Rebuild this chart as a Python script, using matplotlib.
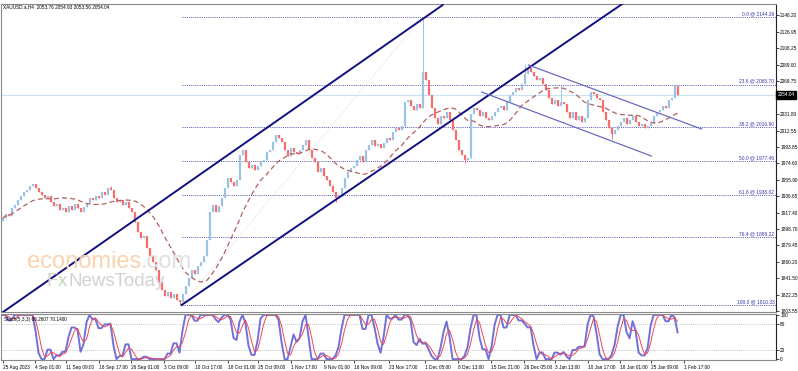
"""XAUUSD H4 chart with channels, Fibonacci levels and a stochastic panel."""

import matplotlib

matplotlib.use("Agg")
import matplotlib.pyplot as plt
import matplotlib.transforms as mtransforms
import pandas as pd

plt.rcParams["font.family"] = ["Liberation Sans", "DejaVu Sans"]

W, H = 798, 371

first_open = 1908.0
closes = [
    1911, 1916, 1914, 1923,
    1926, 1932, 1937, 1941, 1944, 1948, 1951, 1946,
    1941, 1938, 1934, 1937, 1930, 1925, 1927, 1921,
    1923, 1918, 1925, 1921, 1927, 1923, 1918, 1924,
    1929, 1934, 1932, 1937, 1934, 1941, 1938, 1946,
    1944, 1934, 1930, 1932, 1926, 1930, 1923, 1918,
    1907, 1895, 1888, 1890, 1876, 1867, 1860, 1851,
    1837, 1828, 1821, 1825, 1818, 1823, 1816, 1814,
    1823, 1832, 1842, 1851, 1846, 1856, 1860, 1867,
    1886, 1918, 1926, 1918, 1925, 1934, 1946, 1958,
    1953, 1948, 1955, 1984, 1990, 1976, 1969, 1973,
    1967, 1972, 1976, 1979, 1988, 1990, 1999, 2008,
    2004, 1999, 1990, 1983, 1992, 1988, 1985, 1990,
    1996, 2002, 1990, 1981, 1976, 1965, 1969, 1960,
    1955, 1948, 1941, 1934, 1937, 1946, 1958, 1965,
    1969, 1972, 1979, 1983, 1976, 1990, 1996, 2002,
    1995, 1997, 1992, 1998, 2004, 2002, 2011, 2016,
    2013, 2018, 2046, 2048, 2041, 2037, 2044, 2039,
    2081, 2071, 2054, 2039, 2027, 2020, 2030, 2027,
    2034, 2025, 2013, 2002, 1990, 1984, 1979, 1981,
    2032, 2039, 2037, 2030, 2034, 2027, 2025, 2030,
    2034, 2039, 2041, 2037, 2046, 2054, 2057, 2062,
    2060, 2067, 2078, 2085, 2081, 2076, 2071, 2074,
    2067, 2060, 2050, 2043, 2048, 2041, 2046, 2044,
    2034, 2027, 2034, 2025, 2030, 2023, 2027, 2048,
    2057, 2055, 2050, 2048, 2034, 2025, 2016, 2009,
    2013, 2018, 2023, 2027, 2020, 2025, 2030, 2023,
    2018, 2020, 2016, 2018, 2022, 2030, 2034, 2037,
    2041, 2039, 2048, 2050, 2064, 2054.04,
]

# long wicks visible on the chart
wick_bars = [36, 59, 111, 140, 154, 174, 186, 203, 224]
wick_prices = [1948.0, 1810.3, 1930.0, 2144.4, 1975.0, 2090.0, 2066.0, 2003.0, 2067.0]

fib_pct = [0.0, 23.6, 38.2, 50.0, 61.8, 76.4, 100.0]
fib_prices = [2144.39, 2065.70, 2016.90, 1977.46, 1938.02, 1889.22, 1810.33]
fib_anchor_bars = [59.7, 140.0]

price_ticks = [2146.20, 2126.95, 2108.25, 2089.00, 2069.75, 2031.80, 2012.55,
               1993.85, 1974.60, 1955.90, 1936.65, 1917.40, 1898.70, 1879.45,
               1860.20, 1841.50, 1822.25, 1803.55]
last_price = 2054.04

date_labels = ["25 Aug 2023", "4 Sep 01:00", "11 Sep 09:00", "18 Sep 17:00",
               "26 Sep 01:00", "3 Oct 09:00", "10 Oct 17:00", "18 Oct 01:00",
               "25 Oct 09:00", "1 Nov 17:00", "9 Nov 01:00", "16 Nov 09:00",
               "23 Nov 17:00", "1 Dec 05:00", "8 Dec 13:00", "15 Dec 21:00",
               "26 Dec 05:00", "3 Jan 13:00", "10 Jan 17:00", "18 Jan 01:00",
               "25 Jan 09:00", "1 Feb 17:00"]
date_bars = [0.3, 10.7, 21.0, 32.0, 42.7, 53.7, 64.0, 75.0, 85.3, 96.0, 107.0,
             117.3, 128.7, 140.7, 151.7, 162.7, 173.7, 184.3, 195.3, 205.7,
             216.3, 227.3]

# drawn trend lines as (bar, price) anchors
up_top = ([-0.3, 146.7], [1801.0, 2158.3])
up_bottom = ([59.7, 208.0], [1810.3, 2163.0])
down_top = ([175.3, 233.0], [2088.7, 2014.5])
down_bottom = ([159.7, 216.3], [2057.4, 1983.1])

header = "XAUUSD.a,H4  2053.76 2054.93 2053.56 2054.04"
stoch_title = "Stoch(5,3,3) 66.2607 70.1400"

# ---- derived series
c = pd.Series(closes, dtype=float)
o = c.shift(1).fillna(first_open)
hi = pd.concat([o, c], axis=1).max(axis=1)
lo = pd.concat([o, c], axis=1).min(axis=1)
for b, p in zip(wick_bars, wick_prices):
    hi[b] = max(hi[b], p)
    lo[b] = min(lo[b], p)
ma = c.rolling(18, min_periods=1).mean()
ll = lo.rolling(3, min_periods=1).min()
hh = hi.rolling(3, min_periods=1).max()
raw_k = 100 * (c - ll) / (hh - ll).where(hh > ll, 1)
k_line = raw_k.rolling(2, min_periods=1).mean()
d_line = k_line.rolling(3, min_periods=1).mean()
x = list(range(len(closes)))

# ---- figure
fig = plt.figure(figsize=(W / 100, H / 100), dpi=100)
fig.patch.set_facecolor("white")
ax = fig.add_axes([1 / W, 1 - 312 / H, 775 / W, 308 / H])
axs = fig.add_axes([1 / W, 1 - 360 / H, 775 / W, 46 / H], sharex=ax)

xmax = 257.8
ax.set_xlim(-0.5, xmax)
ax.set_ylim(1802.2, 2159.5)

ax.axhline(last_price, color="#c8e4f2", lw=0.8, zorder=1)

ax.hlines(fib_prices, fib_anchor_bars[0], xmax, colors="#5555b5",
          linestyles=(0, (1, 1.2)), lw=0.7, zorder=2)
ax.plot(fib_anchor_bars, [fib_prices[-1], fib_prices[0]], color="#d4d4d4",
        ls=(0, (1, 1.5)), lw=0.6, zorder=2)
trans_r = mtransforms.blended_transform_factory(ax.transAxes, ax.transData)
for pct, p in zip(fib_pct, fib_prices):
    ax.text(0.998, p + 1.2, f"{pct:.1f} @ {p:.2f}", transform=trans_r,
            ha="right", va="bottom", fontsize=3.5, color="#3636b0")

up_c, down_c = "#9cc2e6", "#f76e6e"
cols = [up_c if cc >= oo else down_c for cc, oo in zip(c, o)]
ax.vlines(x, lo, hi, colors=cols, lw=0.7, zorder=3)
ax.vlines(x, [min(a, b) for a, b in zip(o, c)], [max(a, b) for a, b in zip(o, c)],
          colors=cols, lw=1.6, zorder=3)
ax.plot(x, ma, color="#b0625c", lw=0.9, ls=(0, (4, 2.5)), zorder=4)

ax.plot(*up_top, color="#101080", lw=1.4, zorder=5)
ax.plot(*up_bottom, color="#101080", lw=1.4, zorder=5)
ax.plot(*down_top, color="#6b6bc0", lw=0.9, zorder=5)
ax.plot(*down_bottom, color="#6b6bc0", lw=0.9, zorder=5)

# watermark
fig.text(27 / W, 1 - 262 / H, "economies", fontsize=17, color="#f9d2b0",
         va="center", ha="left", zorder=0)
fig.text(141 / W, 1 - 262 / H, ".com", fontsize=17, color="#e0e0e0",
         va="center", ha="left", zorder=0)
fig.text(47 / W, 1 - 281 / H, "F", fontsize=13.5, color="#d2d2d2",
         va="center", ha="left")
fig.text(57.5 / W, 1 - 281 / H, "x", fontsize=13.5, color="#c0dcb8",
         va="center", ha="left")
fig.text(69 / W, 1 - 281 / H, "NewsToday", fontsize=13.5, color="#d2d2d2",
         va="center", ha="left")

ax.yaxis.tick_right()
ax.set_yticks(price_ticks)
ax.set_yticklabels([f"{t:.2f}" for t in price_ticks])
ax.tick_params(axis="y", labelsize=3.4, length=2, pad=1, width=0.5)
ax.tick_params(axis="x", bottom=False, labelbottom=False)
ax.text(1.002, last_price, f"{last_price:.2f}", transform=trans_r, fontsize=3.4,
        color="white", va="center", ha="left",
        bbox=dict(boxstyle="square,pad=0.25", fc="black", ec="black"))

fig.text(3 / W, 1 - 7 / H, header, fontsize=3.4, va="center", ha="left")

# stochastic
axs.set_ylim(-2, 102)
axs.axhline(80, color="#b4b4b4", ls=(0, (1, 1.5)), lw=0.6)
axs.axhline(20, color="#b4b4b4", ls=(0, (1, 1.5)), lw=0.6)
axs.plot(x, k_line, color="#6262d4", lw=1.4, alpha=0.9)
axs.plot(x, d_line, color="#f04658", lw=0.7)
axs.text(0.004, 0.93, stoch_title, transform=axs.transAxes, fontsize=3.4,
         va="top", ha="left")
axs.yaxis.tick_right()
axs.set_yticks([100, 80, 20, 0])
axs.set_yticklabels(["100", "80", "20", "0"])
axs.tick_params(axis="y", labelsize=3.4, length=2, pad=1, width=0.5)
axs.set_xticks(date_bars)
axs.set_xticklabels(date_labels)
axs.tick_params(axis="x", labelsize=3.4, length=2, pad=1.5, width=0.5)
for lbl in axs.get_xticklabels():
    lbl.set_ha("left")

for a in (ax, axs):
    for side, sp in a.spines.items():
        sp.set_linewidth(0.8)
        sp.set_color("#222222" if side == "right" else "#8a8a8a")

fig.savefig("out.png", dpi=100)
